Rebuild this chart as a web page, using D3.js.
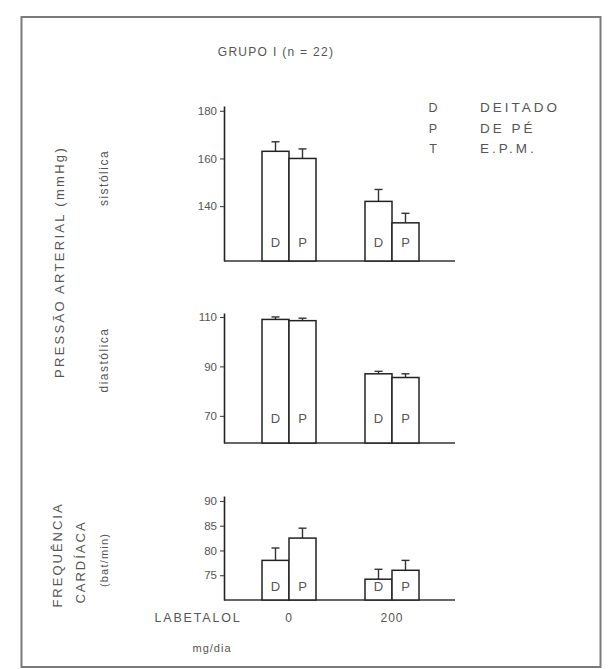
<!DOCTYPE html>
<html>
<head>
<meta charset="utf-8">
<script src="https://cdn.jsdelivr.net/npm/d3@7"></script>
<style>
  body { margin: 0; background: #fff; }
  text { font-family: "Liberation Sans", Arial, sans-serif; fill: #555; }
</style>
</head>
<body>
<svg width="611" height="669"></svg>
<script>
// data
var doses = ["0", "200"];
var posicoes = ["D", "P"];

var sisDeitado = [163, 142];
var sisDePe = [160, 133];
var sisErrD = [4, 5];
var sisErrP = [4, 4];

var diaDeitado = [109, 87];
var diaDePe = [108.5, 85.5];
var diaErrD = [1, 1];
var diaErrP = [1, 1.5];

var fcDeitado = [78, 74.2];
var fcDePe = [82.5, 76];
var fcErrD = [2.5, 2];
var fcErrP = [2, 2];

var sisTicks = [140, 160, 180];
var diaTicks = [70, 90, 110];
var fcTicks = [75, 80, 85, 90];

var svg = d3.select('svg');
var axisX = 224;
var lineEnd = 455;

// frame of the scanned figure
svg.append('rect')
    .attr('x', 21.5).attr('y', 17)
    .attr('width', 579).attr('height', 650)
    .attr('fill', 'none')
    .attr('stroke', '#7a7a7a')
    .attr('stroke-width', 2);

svg.append('text')
    .attr('x', 276).attr('y', 56)
    .attr('text-anchor', 'middle')
    .style('font-size', '12px')
    .style('letter-spacing', '1.3px')
    .text('GRUPO I (n = 22)');

var x = d3.scalePoint().domain(doses).range([289, 392]);
var sub = d3.scaleBand().domain(posicoes).range([-27, 27]);

var panels = [
    { d: sisDeitado, p: sisDePe, ed: sisErrD, ep: sisErrP, ticks: sisTicks,
      y: d3.scaleLinear().domain([117, 182]).range([261, 106]), letterUp: 19 },
    { d: diaDeitado, p: diaDePe, ed: diaErrD, ep: diaErrP, ticks: diaTicks,
      y: d3.scaleLinear().domain([59, 111.6]).range([443, 313]), letterUp: 25 },
    { d: fcDeitado, p: fcDePe, ed: fcErrD, ep: fcErrP, ticks: fcTicks,
      y: d3.scaleLinear().domain([70, 91]).range([600, 496]), letterUp: 14 }
];

panels.forEach(function(pn) {
    var g = svg.append('g');
    var base = pn.y.range()[0];

    var ax = g.append('g')
        .attr('transform', 'translate(' + axisX + ',0)')
        .call(d3.axisLeft(pn.y).tickValues(pn.ticks).tickSize(4).tickSizeOuter(0).tickPadding(3));
    ax.select('.domain').attr('stroke', '#222').attr('stroke-width', 1.6);
    ax.selectAll('.tick line').attr('stroke', '#333');
    ax.selectAll('.tick text').style('font-size', '11.5px').attr('fill', '#555')
        .style('font-family', '"Liberation Sans", Arial, sans-serif');

    g.append('line')
        .attr('x1', axisX).attr('x2', lineEnd)
        .attr('y1', base).attr('y2', base)
        .attr('stroke', '#333').attr('stroke-width', 1.4);

    var rows = [];
    doses.forEach(function(dose, i) {
        rows.push({ dose: dose, pos: 'D', v: pn.d[i], e: pn.ed[i] });
        rows.push({ dose: dose, pos: 'P', v: pn.p[i], e: pn.ep[i] });
    });

    // error bars (only the upper half shows above the bar)
    g.selectAll('.err').data(rows).enter().append('line')
        .attr('x1', function(r) { return x(r.dose) + sub(r.pos) + sub.bandwidth() / 2; })
        .attr('x2', function(r) { return x(r.dose) + sub(r.pos) + sub.bandwidth() / 2; })
        .attr('y1', function(r) { return pn.y(r.v); })
        .attr('y2', function(r) { return pn.y(r.v + r.e); })
        .attr('stroke', '#333').attr('stroke-width', 1.4);
    g.selectAll('.cap').data(rows).enter().append('line')
        .attr('x1', function(r) { return x(r.dose) + sub(r.pos) + sub.bandwidth() / 2 - 4; })
        .attr('x2', function(r) { return x(r.dose) + sub(r.pos) + sub.bandwidth() / 2 + 4; })
        .attr('y1', function(r) { return pn.y(r.v + r.e); })
        .attr('y2', function(r) { return pn.y(r.v + r.e); })
        .attr('stroke', '#333').attr('stroke-width', 1.4);

    g.selectAll('rect').data(rows).enter().append('rect')
        .attr('x', function(r) { return x(r.dose) + sub(r.pos); })
        .attr('y', function(r) { return pn.y(r.v); })
        .attr('width', sub.bandwidth())
        .attr('height', function(r) { return base - pn.y(r.v); })
        .attr('fill', 'white')
        .attr('stroke', '#222')
        .attr('stroke-width', 1.5);

    g.selectAll('.lbl').data(rows).enter().append('text')
        .attr('x', function(r) { return x(r.dose) + sub(r.pos) + sub.bandwidth() / 2; })
        .attr('y', base - pn.letterUp + 5)
        .attr('text-anchor', 'middle')
        .style('font-size', '13px')
        .text(function(r) { return r.pos; });
});

// dose labels under the last panel
svg.append('text').attr('x', 198).attr('y', 622)
    .attr('text-anchor', 'middle')
    .style('font-size', '12.5px').style('letter-spacing', '1.8px')
    .text('LABETALOL');
svg.selectAll('.dose').data(doses).enter().append('text')
    .attr('x', function(d) { return x(d); })
    .attr('y', 622)
    .attr('text-anchor', 'middle')
    .style('font-size', '12px').style('letter-spacing', '1px')
    .text(function(d) { return d; });
svg.append('text').attr('x', 212).attr('y', 652)
    .attr('text-anchor', 'middle')
    .style('font-size', '11px').style('letter-spacing', '1px')
    .text('mg/dia');

// legend
var legSym = ['D', 'P', 'T'];
var legTxt = ['DEITADO', 'DE PÉ', 'E.P.M.'];
svg.selectAll('.legs').data(legSym).enter().append('text')
    .attr('x', 433).attr('y', function(d, i) { return 112 + i * 20.5; })
    .attr('text-anchor', 'middle')
    .style('font-size', '12.5px')
    .text(function(d) { return d; });
svg.selectAll('.legt').data(legTxt).enter().append('text')
    .attr('x', 480).attr('y', function(d, i) { return 112 + i * 20.5; })
    .style('font-size', '13.5px').style('letter-spacing', '3px')
    .text(function(d) { return d; });

// rotated axis titles
var titles = [
    { t: 'PRESSÃO ARTERIAL (mmHg)', x: 64, y: 262, s: 13, ls: 2.3 },
    { t: 'sistólica', x: 108, y: 178, s: 12, ls: 1.5 },
    { t: 'diastólica', x: 108, y: 360, s: 12, ls: 1.5 },
    { t: 'FREQUÊNCIA', x: 62, y: 555, s: 13, ls: 2 },
    { t: 'CARDÍACA', x: 85, y: 562, s: 13, ls: 2 },
    { t: '(bat/min)', x: 108, y: 560, s: 11, ls: 1.2 }
];
svg.selectAll('.ytitle').data(titles).enter().append('text')
    .attr('transform', function(d) { return 'translate(' + d.x + ',' + d.y + ') rotate(-90)'; })
    .attr('text-anchor', 'middle')
    .style('font-size', function(d) { return d.s + 'px'; })
    .style('letter-spacing', function(d) { return d.ls + 'px'; })
    .text(function(d) { return d.t; });
</script>
</body>
</html>
